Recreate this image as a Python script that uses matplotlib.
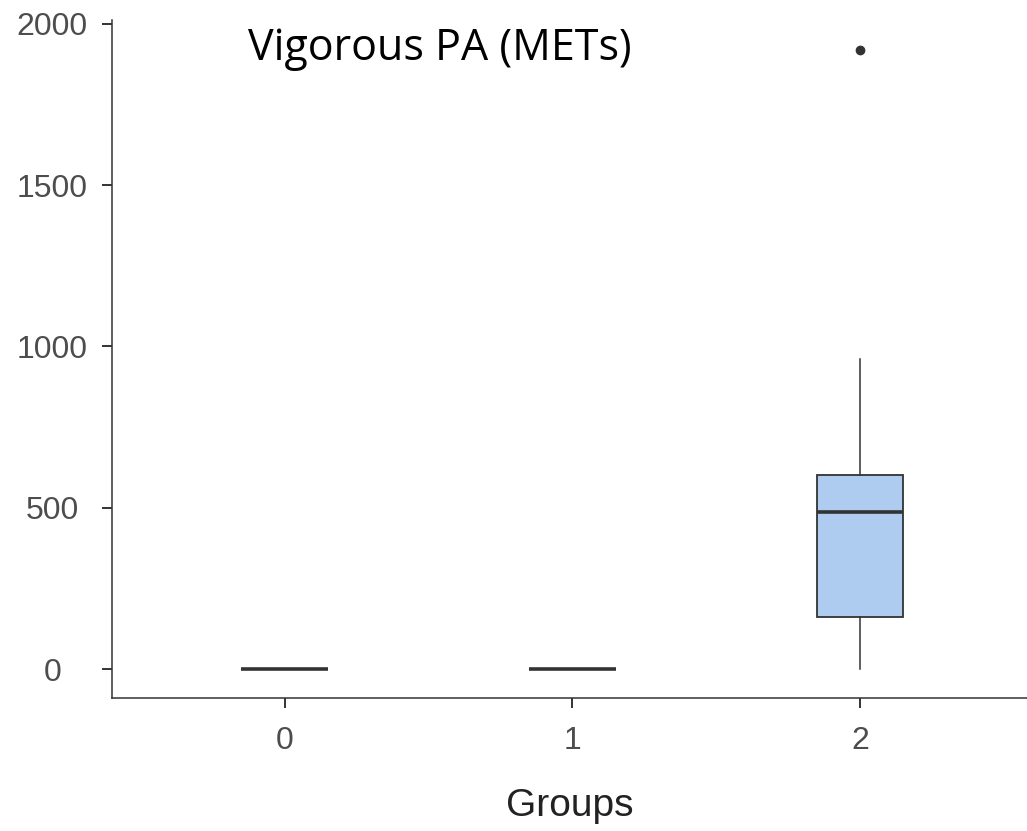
import matplotlib.pyplot as plt

# groups and box summary stats
groups = ['0', '1', '2']
q1 = [0, 0, 161]
median = [0, 0, 487]
q3 = [0, 0, 601]
whisker_low = [0, 0, 0]
whisker_high = [0, 0, 961]
outliers = [[], [], [1919]]

stats = []
for i in range(len(groups)):
    stats.append({'med': median[i], 'q1': q1[i], 'q3': q3[i],
                  'whislo': whisker_low[i], 'whishi': whisker_high[i],
                  'fliers': outliers[i], 'label': groups[i]})

dark = '#333333'
fig = plt.figure(figsize=(10.27, 8.31), dpi=100)
ax = fig.add_axes([0.109, 0.160, 0.891, 0.816])

ax.bxp(stats, positions=range(len(groups)), widths=0.30, patch_artist=True,
       boxprops=dict(facecolor='#aecbf0', edgecolor=dark, linewidth=1.3),
       medianprops=dict(color=dark, linewidth=2.6),
       whiskerprops=dict(color=dark, linewidth=1.1),
       capprops=dict(linewidth=0),
       flierprops=dict(marker='o', markersize=6, markerfacecolor=dark,
                       markeredgecolor=dark))

ax.set_xlim(-0.6, 2.58)
ax.set_ylim(-90, 2012)
ax.set_yticks([0, 500, 1000, 1500, 2000])
ax.set_xticks(range(len(groups)))
ax.set_xticklabels(groups)

for s in ['top', 'right']:
    ax.spines[s].set_visible(False)
for s in ['left', 'bottom']:
    ax.spines[s].set_color(dark)
    ax.spines[s].set_linewidth(1.1)

ax.tick_params(axis='both', colors=dark, labelcolor='#4d4d4d', length=7,
               width=1.4, labelsize=23)
# y labels are centred in the original, not right aligned
ax.tick_params(axis='y', pad=36)
ax.tick_params(axis='x', pad=13)
for lbl in ax.get_yticklabels():
    lbl.set_horizontalalignment('center')
for lbl in ax.get_xticklabels() + ax.get_yticklabels():
    lbl.set_family('Liberation Sans')

ax.set_xlabel('Groups', fontsize=28, family='Liberation Sans', color='#222222', labelpad=23)

fig.text(0.241, 0.9278, 'Vigorous PA (METs)', fontsize=31, family='Open Sans',
         color='black', va='baseline')

fig.savefig('out.png', dpi=100)
plt.close(fig)
